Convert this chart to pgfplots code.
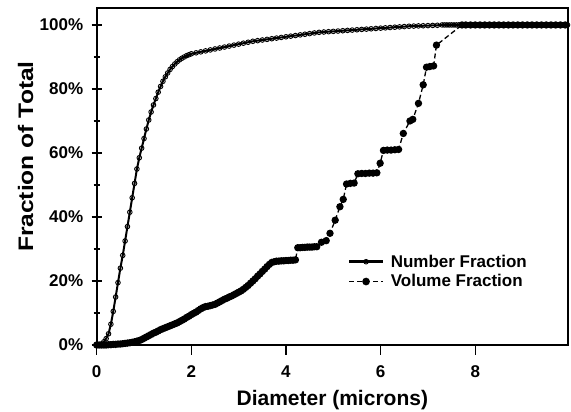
\documentclass[border=0pt]{standalone}
\usepackage{fontspec}
\setmainfont{Liberation Sans}
\usepackage{pgfplots}
\pgfplotsset{compat=1.18}
\begin{document}
\begin{tikzpicture}
\useasboundingbox (0,0) rectangle (571bp,412bp);
\begin{axis}[
  at={(96.7bp,67bp)}, anchor=south west,
  scale only axis, width=471.3bp, height=337bp,
  xmin=0, xmax=9.96, ymin=0, ymax=105.3,
  clip=false,
  axis line style={line width=1.6bp},
  tick pos=left,
  xtick={0,2,4,6,8}, xticklabels={0,2,4,6,8},
  ytick={0,20,40,60,80,100},
  yticklabels={0\%,20\%,40\%,60\%,80\%,100\%},
  minor ytick={10,30,50,70,90},
  xtick align=outside, ytick align=center,
  major tick length=10bp, minor tick length=6bp,
  every tick/.style={black, line width=1.3bp},
  ticklabel style={font=\bfseries\fontsize{17bp}{20bp}\selectfont},
  xticklabel style={yshift=-7bp},
  yticklabel style={xshift=-5bp},
  xlabel={Diameter (microns)}, ylabel={\scalebox{1.17}[1]{Fraction of Total}},
  label style={font=\bfseries\fontsize{21bp}{24bp}\selectfont},
  xlabel style={at={(axis description cs:0.5,0)}, anchor=base, yshift=-60bp},
  ylabel style={at={(axis description cs:-0.1506,0.559)}, anchor=center, rotate=0},
  legend style={at={(0.525,0.28)}, anchor=north west, draw=none, fill=none,
    font=\bfseries\fontsize{17bp}{20bp}\selectfont, row sep=2bp, column sep=4bp},
  legend cell align=left,
  legend image code/.code={\draw[mark repeat=2,mark phase=2] plot coordinates {(0bp,0bp) (17bp,0bp) (34bp,0bp)};},
]
\addplot[black, line width=2bp, mark=o, mark size=2.3bp, mark options={line width=0.9bp, fill=white},
  legend image post style={line width=3.5bp}]
coordinates {
(0,0) (0.05,0.1) (0.1,0.3) (0.15,1) (0.2,2) (0.25,3.5) (0.3,6.5) (0.35,10.5) (0.4,15) (0.45,19.5)
(0.5,24) (0.55,28) (0.6,32.5) (0.65,37) (0.7,41.5) (0.75,46) (0.8,50.5) (0.85,55) (0.9,58.5) (0.95,61.5)
(1.0,64.5) (1.05,67.5) (1.1,70.3) (1.15,72.8) (1.2,75) (1.25,77) (1.3,79) (1.35,80.8) (1.4,82.4) (1.45,83.8)
(1.5,85) (1.55,86.1) (1.6,87) (1.65,87.8) (1.7,88.5) (1.75,89.1) (1.8,89.6) (1.85,90) (1.9,90.4) (1.95,90.7)
(2.0,91) (2.1,91.3) (2.2,91.6) (2.3,91.9) (2.4,92.2) (2.5,92.5) (2.6,92.8) (2.7,93.1) (2.8,93.4) (2.9,93.7)
(3.0,94) (3.1,94.3) (3.2,94.6) (3.3,94.9) (3.4,95.1) (3.5,95.3) (3.6,95.5) (3.7,95.7) (3.8,95.9) (3.9,96.1)
(4.0,96.3) (4.1,96.5) (4.2,96.7) (4.3,96.9) (4.4,97.1) (4.5,97.3) (4.6,97.5) (4.7,97.7) (4.8,97.8) (4.9,97.9)
(5.0,98) (5.1,98.1) (5.2,98.2) (5.3,98.3) (5.4,98.4) (5.5,98.5) (5.6,98.6) (5.7,98.7) (5.8,98.8) (5.9,98.9)
(6.0,99) (6.1,99.1) (6.2,99.2) (6.3,99.3) (6.4,99.4) (6.5,99.5) (6.6,99.6) (6.7,99.65) (6.8,99.7) (6.9,99.75)
(7.0,99.8) (7.1,99.85) (7.2,99.9) (7.3,100) (7.35,100) (7.4,100) (7.45,100) (7.5,100) (7.55,100) (7.6,100)
(7.65,100) (7.7,100) (7.75,100) (7.8,100) (7.85,100) (7.9,100) (7.95,100) (8.0,100) (8.05,100) (8.1,100)
(8.15,100) (8.2,100) (8.25,100) (8.3,100) (8.35,100) (8.4,100) (8.45,100) (8.5,100) (8.55,100) (8.6,100)
(8.65,100) (8.7,100) (8.75,100) (8.8,100) (8.85,100) (8.9,100) (8.95,100) (9.0,100) (9.05,100) (9.1,100)
(9.15,100) (9.2,100) (9.25,100) (9.3,100) (9.35,100) (9.4,100) (9.45,100) (9.5,100) (9.55,100) (9.6,100)
(9.65,100) (9.7,100) (9.75,100) (9.8,100) (9.85,100) (9.9,100) (9.95,100)
};
\addlegendentry{Number Fraction}
\addplot[black, line width=1.3bp, dash pattern=on 5bp off 3bp, mark=*, mark size=3bp, mark options={solid},
  legend image post style={line width=1.6bp}]
coordinates {
(0,0) (0.05,0) (0.1,0) (0.15,0) (0.2,0) (0.25,0.1) (0.3,0.1) (0.35,0.2) (0.4,0.2) (0.45,0.3)
(0.5,0.3) (0.55,0.4) (0.6,0.5) (0.65,0.6) (0.7,0.7) (0.75,0.85) (0.8,1.0) (0.85,1.2) (0.9,1.4) (0.95,1.7)
(1.0,2.1) (1.05,2.5) (1.1,2.9) (1.15,3.3) (1.2,3.7) (1.25,4.0) (1.3,4.4) (1.35,4.8) (1.4,5.1) (1.45,5.4)
(1.5,5.7) (1.55,6.0) (1.6,6.3) (1.65,6.6) (1.7,6.9) (1.75,7.3) (1.8,7.7) (1.85,8.1) (1.9,8.6) (1.95,9.0)
(2.0,9.5) (2.05,9.9) (2.1,10.3) (2.15,10.8) (2.2,11.3) (2.25,11.7) (2.3,12.0) (2.35,12.1) (2.4,12.3) (2.45,12.5)
(2.5,12.7) (2.55,13.1) (2.6,13.5) (2.65,13.9) (2.7,14.3) (2.75,14.6) (2.8,15.0) (2.85,15.3) (2.9,15.7) (2.95,16.1)
(3.0,16.5) (3.05,16.9) (3.1,17.4) (3.15,18.0) (3.2,18.6) (3.25,19.3) (3.3,20.0) (3.35,20.7) (3.4,21.5) (3.45,22.2)
(3.5,23.0) (3.55,23.7) (3.6,24.5) (3.65,25.2) (3.7,25.8) (3.75,26.0) (3.8,26.2) (3.85,26.2) (3.9,26.3) (3.95,26.3)
(4.0,26.4) (4.05,26.4) (4.1,26.5) (4.15,26.5) (4.2,26.6) (4.25,30.4) (4.3,30.4) (4.35,30.5) (4.4,30.5) (4.45,30.6)
(4.5,30.6) (4.55,30.6) (4.6,30.7) (4.65,30.7) (4.75,32.1) (4.85,32.6) (4.93,34.9) (5.04,39.0) (5.14,43.2) (5.21,45.5)
(5.28,50.3) (5.36,50.5) (5.44,50.6) (5.52,53.5) (5.6,53.6) (5.68,53.6) (5.76,53.7) (5.84,53.7) (5.92,53.8) (5.99,56.8)
(6.06,60.8) (6.14,60.9) (6.22,60.9) (6.3,61.0) (6.38,61.1) (6.48,66.1) (6.62,70.0) (6.68,70.5) (6.8,75.5) (6.9,81.3)
(6.97,86.8) (7.04,87.0) (7.12,87.2) (7.18,93.7) (7.72,100) (7.8,100) (7.9,100) (8.0,100) (8.1,100) (8.2,100)
(8.3,100) (8.4,100) (8.5,100) (8.6,100) (8.7,100) (8.8,100) (8.9,100) (9.0,100) (9.1,100) (9.2,100)
(9.3,100) (9.4,100) (9.5,100) (9.6,100) (9.7,100) (9.8,100) (9.9,100)
};
\addlegendentry{Volume Fraction}
\end{axis}
\end{tikzpicture}
\end{document}
